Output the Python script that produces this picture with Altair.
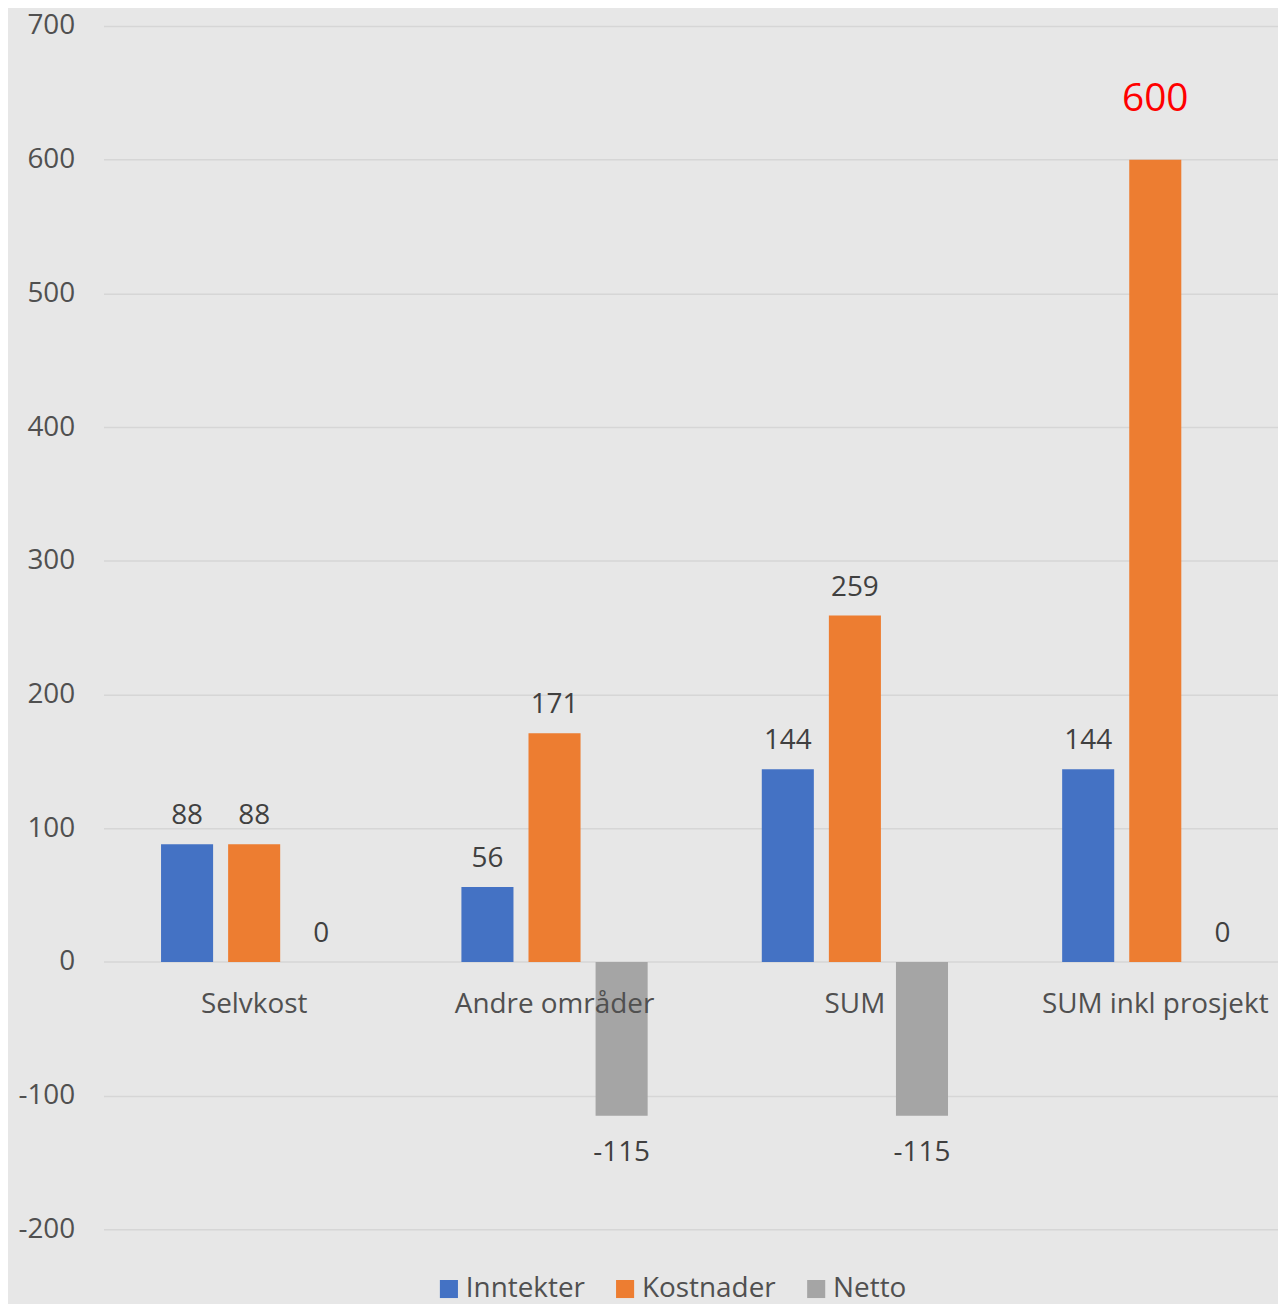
import altair as alt
import pandas as pd

categories = ["Selvkost", "Andre områder", "SUM", "SUM inkl prosjekt"]
series = ["Inntekter", "Kostnader", "Netto"]
inntekter = [88, 56, 144, 144]
kostnader = [88, 171, 259, 600]
netto = [0, -115, -115, 0]
y_ticks = [-200, -100, 0, 100, 200, 300, 400, 500, 600, 700]
colors = ["#4472C4", "#ED7D31", "#A5A5A5"]

rows = []
for i, c in enumerate(categories):
    for s, vals in zip(series, [inntekter, kostnader, netto]):
        rows.append({"kategori": c, "serie": s, "verdi": vals[i]})
df = pd.DataFrame(rows)
cat_df = pd.DataFrame({"kategori": categories})

FONT = "Open Sans"
TXT = "#404040"
FS = 28

x_enc = alt.X("kategori:N", sort=categories, axis=None,
              scale=alt.Scale(paddingInner=0.38, paddingOuter=0.145, align=0.66))
xoff = alt.XOffset("serie:N", sort=series, scale=alt.Scale(paddingInner=0.224, paddingOuter=0))
y_scale = alt.Scale(domain=[-200, 700], nice=False)

base = alt.Chart(df).transform_calculate(etikett="'' + datum.verdi")

bars = base.mark_bar().encode(
    x=x_enc,
    xOffset=xoff,
    y=alt.Y("verdi:Q", scale=y_scale, title=None,
            axis=alt.Axis(values=y_ticks, grid=True, gridColor="#d6d6d6", gridWidth=1.5,
                          domain=False, ticks=False, tickSize=0, labelPadding=29,
                          labelExpr="'' + datum.value",
                          labelFontSize=FS, labelColor="#505050", labelFont=FONT)),
    color=alt.Color("serie:N", sort=series,
                    scale=alt.Scale(domain=series, range=colors),
                    legend=alt.Legend(title=None, orient="none", direction="horizontal",
                                      legendX=333, legendY=1255,
                                      symbolType="square", symbolSize=330,
                                      symbolStrokeWidth=0, labelFontSize=FS,
                                      labelColor="#505050", labelFont=FONT,
                                      columnPadding=26, labelOffset=3)),
)

max_val = max(kostnader)

pos_labels = base.transform_filter(
    (alt.datum.verdi >= 0) & (alt.datum.verdi < max_val)
).mark_text(baseline="bottom", dy=-14, fontSize=FS, font=FONT, color=TXT).encode(
    x=x_enc, xOffset=xoff, y=alt.Y("verdi:Q", scale=y_scale), text="etikett:N"
)

neg_labels = base.transform_filter(alt.datum.verdi < 0).mark_text(
    baseline="top", dy=24, fontSize=FS, font=FONT, color=TXT
).encode(x=x_enc, xOffset=xoff, y=alt.Y("verdi:Q", scale=y_scale), text="etikett:N")

top_label = base.transform_filter(alt.datum.verdi >= max_val).mark_text(
    baseline="bottom", dy=-41, fontSize=39, font=FONT, color="#FF0000"
).encode(x=x_enc, xOffset=xoff, y=alt.Y("verdi:Q", scale=y_scale), text="etikett:N")

cat_labels = alt.Chart(cat_df).mark_text(
    baseline="middle", dy=43, fontSize=FS, font=FONT, color="#505050"
).encode(x=x_enc, y=alt.datum(0), text="kategori:N")

chart = alt.layer(bars, pos_labels, neg_labels, top_label, cat_labels).properties(
    width=1180, height=1209,
    autosize=alt.AutoSizeParams(type="none"),
    padding={"left": 96, "top": 15, "right": 0, "bottom": 72},
    background="#e7e7e7",
).configure_view(stroke=None)

chart.save("out.html", embed_options={"renderer": "svg", "actions": False})
